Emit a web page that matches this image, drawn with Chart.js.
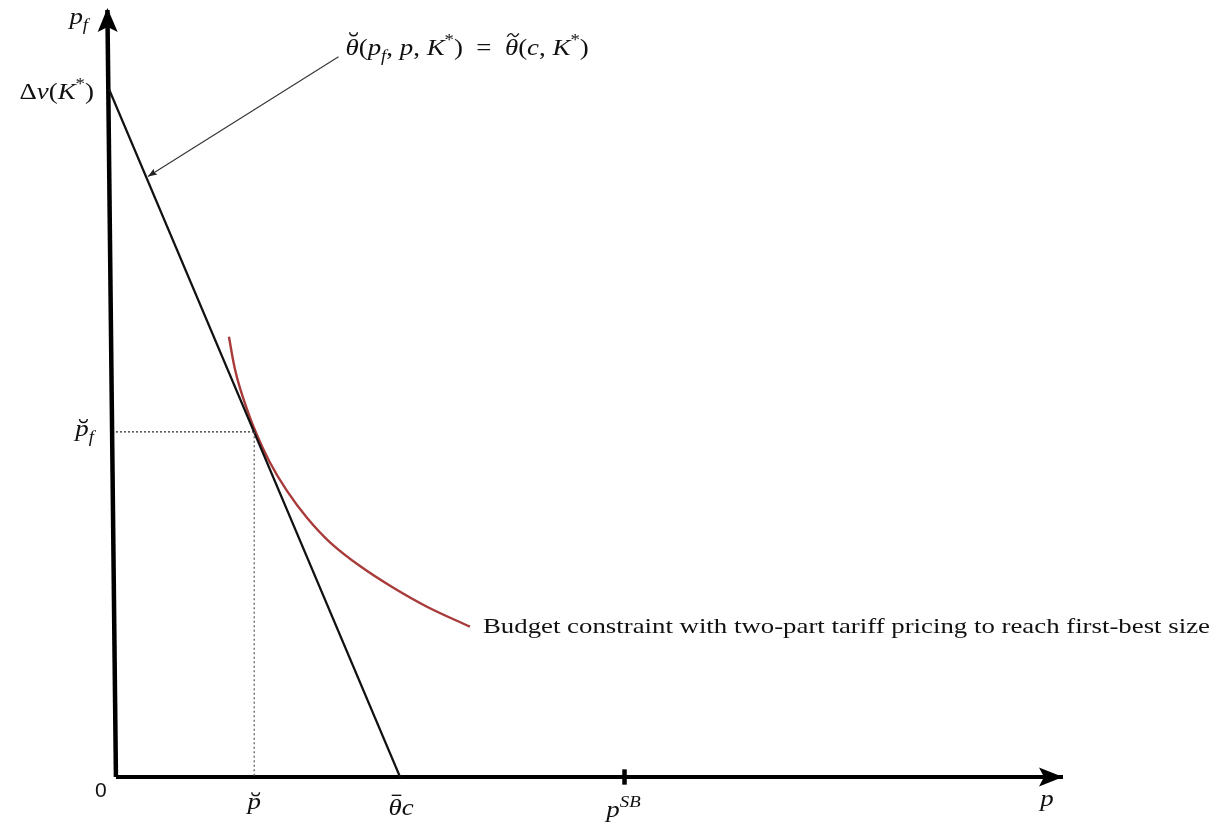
<!DOCTYPE html>
<html>
<head>
<meta charset="utf-8">
<script src="https://cdn.jsdelivr.net/npm/chart.js@4/dist/chart.umd.min.js"></script>
<style>
html,body{margin:0;padding:0;background:#fff;}
#wrap{width:1225px;height:825px;}
</style>
</head>
<body>
<div id="wrap"><canvas id="c" width="1225" height="825"></canvas></div>
<script>
// ---- data ----
const axisYLine = [{x:0,y:0},{x:-0.9,y:100}];
const axisXLine = [{x:0,y:0},{x:100,y:0}];
const zeroProfitLine = [{x:-0.74,y:89.7},{x:30.0,y:0}];      // θ̆(p_f,p,K*) = θ̃(c,K*)
const budgetCurveX = [11.93,12.6,13.41,14.68,16.26,18.06,20.17,22.6,25.77,29.25,32.84,37.38];
const budgetCurveY = [57.4,53.0,49.5,45.2,41.0,37.3,33.8,30.6,27.5,24.7,22.2,19.6];
const pBreve = 14.6;        // p̆
const pfBreve = 45.0;       // p̆_f
const thetaBarC = 30.0;     // θ̄c
const pSB = 53.7;           // p^SB
const deltaV = 89.7;        // Δv(K*)
const annotArrow = [{x:23.5,y:93.9},{x:3.38,y:78.3}];
const budgetLabel = "Budget constraint with two-part tariff pricing to reach first-best size";

const budgetCurve = budgetCurveX.map((x,i)=>({x:x,y:budgetCurveY[i]}));
const dottedH = [{x:0,y:pfBreve},{x:pBreve,y:pfBreve}];
const dottedV = [{x:pBreve,y:pfBreve},{x:pBreve,y:0}];
const sbTick = [{x:pSB,y:-1},{x:pSB,y:1}];

const SERIF = '"Liberation Serif", "DejaVu Serif", serif';
const B = 24, SX = 1.12;

function fontOf(p, base){
  const size = (p.sub||p.sup) ? base*0.7 : base;
  return (p.i?'italic ':'') + size + 'px ' + SERIF;
}
function drawAccent(ctx, kind, cx, cy, base){
  ctx.save();
  ctx.strokeStyle = '#111';
  ctx.lineWidth = 1.4;
  ctx.beginPath();
  if(kind==='breve'){
    const w = base*0.16, h = base*0.12;
    ctx.moveTo(cx-w, cy-h);
    ctx.bezierCurveTo(cx-w, cy+h*0.6, cx+w, cy+h*0.6, cx+w, cy-h);
  } else if(kind==='tilde'){
    const w = base*0.24, h = base*0.07;
    ctx.moveTo(cx-w, cy+h);
    ctx.bezierCurveTo(cx-w*0.5, cy-h*2.2, cx-w*0.1, cy-h*0.5, cx, cy);
    ctx.bezierCurveTo(cx+w*0.1, cy+h*0.5, cx+w*0.5, cy+h*2.2, cx+w, cy-h);
  } else if(kind==='bar'){
    const w = base*0.2;
    ctx.moveTo(cx-w, cy); ctx.lineTo(cx+w, cy);
  }
  ctx.stroke();
  ctx.restore();
}
function drawMath(ctx, x, y, parts, align, base, sx){
  sx = sx||1;
  let w = 0;
  parts.forEach(p=>{ctx.font=fontOf(p,base); p._w = ctx.measureText(p.t).width*sx; w += p._w;});
  let cx = align==='center' ? x - w/2 : (align==='right' ? x - w : x);
  ctx.textBaseline='alphabetic';
  ctx.textAlign='left';
  parts.forEach(p=>{
    ctx.font=fontOf(p,base);
    let dy = p.sub ? base*0.25 : (p.sup ? -base*0.4 : 0);
    ctx.save();
    ctx.translate(cx, y+dy);
    ctx.scale(sx,1);
    ctx.fillText(p.t, 0, 0);
    ctx.restore();
    if(p.acc){
      const tall = (p.t==='θ');
      const ay = y - base*(tall ? 0.82 : 0.58);
      drawAccent(ctx, p.acc, cx + p._w/2 + (p.i?base*0.06:0), ay, base);
    }
    cx += p._w;
  });
  return w;
}
function arrowHead(ctx, tipX, tipY, ang, len, half, notch){
  ctx.save();
  ctx.translate(tipX, tipY);
  ctx.rotate(ang);
  ctx.beginPath();
  ctx.moveTo(0,0);
  ctx.lineTo(-len, -half);
  ctx.lineTo(-len+notch, 0);
  ctx.lineTo(-len, half);
  ctx.closePath();
  ctx.fill();
  ctx.restore();
}

const decor = {
  id:'decor',
  afterDatasetsDraw(chart){
    const ctx = chart.ctx, xs = chart.scales.x, ys = chart.scales.y;
    const X = v=>xs.getPixelForValue(v), Y = v=>ys.getPixelForValue(v);
    ctx.save();
    ctx.fillStyle='#000';
    // axis arrowheads
    const yt = axisYLine[1], yb = axisYLine[0];
    const angY = Math.atan2(Y(yt.y)-Y(yb.y), X(yt.x)-X(yb.x));
    arrowHead(ctx, X(yt.x), Y(yt.y)-2, angY, 24, 10, 5);
    arrowHead(ctx, X(axisXLine[1].x), Y(0), 0, 24, 9.5, 5);
    // annotation arrowhead
    const a0 = annotArrow[0], a1 = annotArrow[1];
    const angA = Math.atan2(Y(a1.y)-Y(a0.y), X(a1.x)-X(a0.x));
    ctx.fillStyle='#222';
    arrowHead(ctx, X(a1.x), Y(a1.y), angA, 9, 3.5, 1.5);
    ctx.fillStyle='#111';
    // p_f axis label
    drawMath(ctx, X(-0.9)-38, Y(100)+14, [{t:'p',i:1},{t:'f',i:1,sub:1}], 'left', B, SX);
    // Δv(K*)
    drawMath(ctx, X(0)-22, Y(deltaV)+10, [{t:'Δ'},{t:'v',i:1},{t:'('},{t:'K',i:1},{t:'*',sup:1},{t:')'}], 'right', B, SX);
    // p̆_f
    drawMath(ctx, X(0)-22, Y(pfBreve)+4, [{t:'p',i:1,acc:'breve'},{t:'f',i:1,sub:1}], 'right', B, SX);
    // p̆
    drawMath(ctx, X(pBreve), Y(0)+32, [{t:'p',i:1,acc:'breve'}], 'center', B, SX);
    // θ̄c
    drawMath(ctx, X(thetaBarC)+1, Y(0)+38, [{t:'θ',i:1,acc:'bar'},{t:'c',i:1}], 'center', B, SX);
    // p^SB
    drawMath(ctx, X(pSB)-1, Y(0)+40, [{t:'p',i:1},{t:'SB',i:1,sup:1}], 'center', B, SX);
    // p axis label
    drawMath(ctx, X(100)-16, Y(0)+29, [{t:'p',i:1}], 'center', B, SX);
    // 0
    ctx.font = '21px "Liberation Sans", Arial, sans-serif';
    ctx.textAlign='center'; ctx.textBaseline='alphabetic';
    ctx.fillText('0', X(0)-15, Y(0)+20);
    // annotation formula
    drawMath(ctx, X(a0.x)+7, Y(a0.y)-2, [
      {t:'θ',i:1,acc:'breve'},{t:'('},{t:'p',i:1},{t:'f',i:1,sub:1},{t:', '},{t:'p',i:1},{t:', '},
      {t:'K',i:1},{t:'*',sup:1},{t:')  =  '},{t:'θ',i:1,acc:'tilde'},{t:'('},{t:'c',i:1},{t:', '},
      {t:'K',i:1},{t:'*',sup:1},{t:')'}], 'left', B, SX);
    // budget label (stretched to the reference's wider TeX width)
    const last = budgetCurve[budgetCurve.length-1];
    ctx.font = '22px ' + SERIF;
    const mw = ctx.measureText(budgetLabel).width;
    const bsx = 727 / mw;
    ctx.textAlign='left'; ctx.textBaseline='middle';
    ctx.save();
    ctx.translate(X(last.x)+13, Y(last.y)+1);
    ctx.scale(bsx,1);
    ctx.fillText(budgetLabel, 0, 0);
    ctx.restore();
    ctx.restore();
  }
};

const lineDs = (data, color, width, extra) => Object.assign({
  data: data, showLine: true, borderColor: color, borderWidth: width,
  pointRadius: 0, fill: false, tension: 0, clip: false
}, extra||{});

new Chart(document.getElementById('c'), {
  type: 'scatter',
  data: {
    datasets: [
      lineDs(dottedH, '#222', 1.2, {borderDash:[2,2]}),
      lineDs(dottedV, '#555', 1.2, {borderDash:[2,2.5]}),
      lineDs(zeroProfitLine, '#111', 2.2),
      lineDs(budgetCurve, '#a83a3a', 2.4, {tension:0.4}),
      lineDs(annotArrow, '#333', 1.1),
      lineDs(axisYLine, '#000', 4.5),
      lineDs(axisXLine, '#000', 4),
      lineDs(sbTick, '#000', 4.5)
    ]
  },
  options: {
    responsive: false,
    animation: false,
    layout: { padding: { left: 97, right: 162, top: 10, bottom: 48 } },
    plugins: { legend: {display:false}, tooltip: {enabled:false} },
    scales: {
      x: { type:'linear', display:false, min:-2, max:100 },
      y: { type:'linear', display:false, min:0, max:100 }
    },
    elements: { line: { borderCapStyle:'butt' } }
  },
  plugins: [decor]
});
</script>
</body>
</html>
